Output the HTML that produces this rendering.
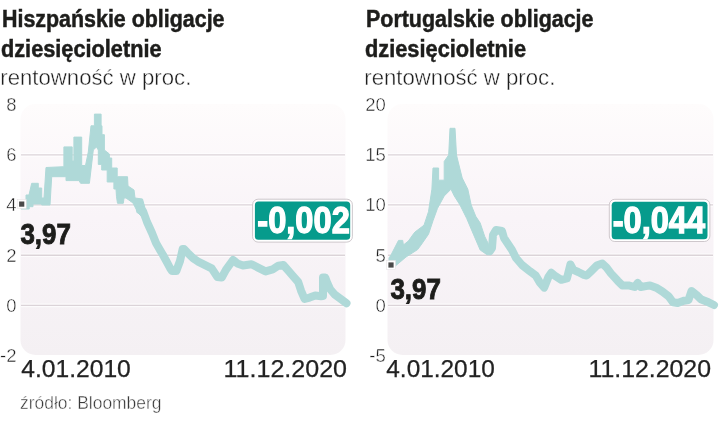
<!DOCTYPE html>
<html><head><meta charset="utf-8">
<style>
html,body{margin:0;padding:0;background:#fff;width:720px;height:423px;overflow:hidden}
svg{display:block;will-change:transform}
text{font-family:"Liberation Sans",sans-serif}
</style></head><body>
<svg width="720" height="423" viewBox="0 0 720 423">
<defs>
<linearGradient id="bg" x1="0" y1="0" x2="0" y2="1">
<stop offset="0" stop-color="#fefcfc"/>
<stop offset="0.45" stop-color="#f9f4f8"/>
<stop offset="1" stop-color="#f4f0f3"/>
</linearGradient>
<filter id="sh" x="-10%" y="-20%" width="120%" height="140%"><feGaussianBlur stdDeviation="0.4"/></filter>
</defs>
<text x="2" y="27.3" font-size="23.5" font-weight="bold" fill="#1d1d1b" textLength="222.5" lengthAdjust="spacingAndGlyphs" stroke="#1d1d1b" stroke-width="0.5">Hiszpańskie obligacje</text>
<text x="1" y="56.6" font-size="23.5" font-weight="bold" fill="#1d1d1b" textLength="160.5" lengthAdjust="spacingAndGlyphs" stroke="#1d1d1b" stroke-width="0.5">dziesięcioletnie</text>
<text x="0.3" y="85.3" font-size="22" fill="#1e1e1e" textLength="191" lengthAdjust="spacingAndGlyphs" stroke="#fff" stroke-width="0.4">rentowność w proc.</text>
<rect x="20.5" y="104" width="325" height="251" rx="15" fill="url(#bg)"/>
<g stroke="#ffffff" stroke-width="3.6" stroke-opacity="0.7">
<line x1="21.0" y1="154.9" x2="345.0" y2="154.9"/>
<line x1="21.0" y1="204.9" x2="345.0" y2="204.9"/>
<line x1="21.0" y1="255.2" x2="345.0" y2="255.2"/>
<line x1="21.0" y1="305.4" x2="345.0" y2="305.4"/>
</g>
<g stroke="#dbd3d8" stroke-width="1.4">
<line x1="21.0" y1="154.9" x2="345.0" y2="154.9"/>
<line x1="21.0" y1="204.9" x2="345.0" y2="204.9"/>
<line x1="21.0" y1="255.2" x2="345.0" y2="255.2"/>
<line x1="21.0" y1="305.4" x2="345.0" y2="305.4"/>
</g>
<path d="M21,203 L26,203 L26,195 L29,195 L31.7,183.3 L38.3,183.3 L38.3,188 L41.7,188 L41.7,198 L44,198 L46,167.5 L63.9,166.7 L63.9,146.9 L72.2,146.9 L72.2,161 L73.9,161 L73.9,137.1 L81.7,137.1 L81.7,165.5 L85.5,165.5 L88.3,152 L91,125.8 L94.4,125.8 L94.4,114.1 L101.1,114.1 L101.1,125.8 L102,125.8 L102,134.7 L104.4,134.7 L104.4,150 L109.4,154 L109.4,158 L111.7,158 L111.7,168 L117.2,168 L117.2,176.7 L127.5,176.7 L128,186 L134,190 L135,198 L142.5,199 L145,208 L143,218 L138,213 L133,203 L126,198 L124,198 L123.3,203.3 L117.5,203.3 L116.5,196.7 L116,189 L113.9,189 L113.9,182 L107.2,182 L107.2,170 L101.7,170 L101.7,164.4 L98.3,164.4 L98.3,150 L96.5,147 L93.3,150 L89.4,183.3 L80.6,183.3 L79,180.6 L66,180.6 L66,176.7 L51.7,176.7 L50,205 L41.7,205 L41.7,204 L33,204 L33,206.7 L29.2,206.7 L29.2,209 L21,209Z" fill="#afd9d8" stroke="#afd9d8" stroke-width="1" stroke-linejoin="round"/><path d="M140,210 L143,211 L147,222 L152,233 L156,243 L160,250 L163,255 L166.3,261 L170,268 L172,271 L176.3,271 L180,261 L182.7,249 L184,249 L187.6,252.8 L193.3,258.4 L197.6,261.3 L204.6,264.8 L211.7,268.4 L217.4,277 L221.7,277.6 L225.9,269.8 L233,260 L237.3,263.4 L243,265.5 L251.5,264.3 L258.5,267.9 L265.6,271.4 L272.7,269.3 L278.4,265.7 L283.3,265 L288.3,270.7 L292.6,275.7 L298.2,282 L301,290.6 L304.6,299 L309.6,297.6 L315.2,295.5 L321,296.2 L323,296 L323,277.5 L325.3,277.5 L327.3,283 L330,289 L335,294.8 L340.8,299 L346.5,303.3" fill="none" stroke="#afd9d8" stroke-width="8" stroke-linejoin="round" stroke-linecap="round"/>
<rect x="17.2" y="199.6" width="9" height="9" fill="#fff" stroke="#e4e0e2" stroke-width="0.5"/>
<rect x="19.099999999999998" y="201.5" width="5.2" height="5.2" fill="#4a4a4a"/>
<g font-size="18.5" fill="#1e1e1e" text-anchor="end" stroke="#fff" stroke-width="0.45">
<text x="16.5" y="110.8">8</text>
<text x="16.5" y="161.1">6</text>
<text x="16.5" y="211.4">4</text>
<text x="16.5" y="261.8">2</text>
<text x="16.5" y="312.0">0</text>
<text x="16.5" y="362.1">-2</text>
</g>
<text x="366" y="27.3" font-size="23.5" font-weight="bold" fill="#1d1d1b" textLength="227.5" lengthAdjust="spacingAndGlyphs" stroke="#1d1d1b" stroke-width="0.5">Portugalskie obligacje</text>
<text x="365" y="56.6" font-size="23.5" font-weight="bold" fill="#1d1d1b" textLength="161" lengthAdjust="spacingAndGlyphs" stroke="#1d1d1b" stroke-width="0.5">dziesięcioletnie</text>
<text x="364.3" y="85.3" font-size="22" fill="#1e1e1e" textLength="191" lengthAdjust="spacingAndGlyphs" stroke="#fff" stroke-width="0.4">rentowność w proc.</text>
<rect x="387.5" y="104" width="326" height="251" rx="15" fill="url(#bg)"/>
<g stroke="#ffffff" stroke-width="3.6" stroke-opacity="0.7">
<line x1="388.0" y1="154.9" x2="713.0" y2="154.9"/>
<line x1="388.0" y1="204.9" x2="713.0" y2="204.9"/>
<line x1="388.0" y1="255.2" x2="713.0" y2="255.2"/>
<line x1="388.0" y1="305.4" x2="713.0" y2="305.4"/>
</g>
<g stroke="#dbd3d8" stroke-width="1.4">
<line x1="388.0" y1="154.9" x2="713.0" y2="154.9"/>
<line x1="388.0" y1="204.9" x2="713.0" y2="204.9"/>
<line x1="388.0" y1="255.2" x2="713.0" y2="255.2"/>
<line x1="388.0" y1="305.4" x2="713.0" y2="305.4"/>
</g>
<path d="M389,258 L391,255 L398.5,240.4 L402.7,240.4 L403.4,245 L408.4,241 L413.4,234 L415,232 L424,225.2 L428.5,211.7 L431.9,189.2 L433,168 L438.6,168 L438.6,180.2 L444.2,180.2 L444.2,161.5 L448.7,155 L450,128.3 L455,128.3 L456.5,155 L457.7,160 L462.2,178 L467.8,189.2 L471.2,205 L475.7,216.2 L480.2,223 L484.7,236.4 L488,243 L491,254.7 L487,254.7 L480.2,250 L473.4,234.2 L466.7,218.4 L460,205 L454.3,196 L451,189.2 L444.2,196 L437.5,208.3 L433,220.7 L428.5,234.2 L421,245 L417.6,249.6 L406,257 L393,268 L389,268Z" fill="#afd9d8" stroke="#afd9d8" stroke-width="1" stroke-linejoin="round"/><path d="M488,250 L490,251 L492,248 L493,235 L496,230 L502,231 L504,238 L508,244 L512,250 L516,258 L522,265 L530,271.3 L535.7,275.5 L539.9,282.6 L544.2,287.6 L548.4,277 L551.3,272.7 L555.5,276.2 L561.2,279.8 L566.9,278.4 L570.4,264.5 L573.3,269.9 L578.2,272 L583.9,274.8 L586.7,275.5 L591,271.3 L596.7,265.6 L602.3,263.5 L606.6,267.7 L610.9,273.4 L617.7,280.8 L622.3,285.4 L628.5,285.4 L634.6,287 L637.7,283 L640.8,287 L650,285.4 L656.2,287.7 L662.3,291.5 L668.5,296.2 L673,302.3 L677.7,303 L683.8,300.8 L688.5,300 L691.5,291 L696.2,294.6 L700.8,299.2 L708.5,302.3 L714,305" fill="none" stroke="#afd9d8" stroke-width="8" stroke-linejoin="round" stroke-linecap="round"/>
<rect x="386.5" y="260.5" width="9" height="9" fill="#fff" stroke="#e4e0e2" stroke-width="0.5"/>
<rect x="388.4" y="262.4" width="5.2" height="5.2" fill="#4a4a4a"/>
<g font-size="18.5" fill="#1e1e1e" text-anchor="end" stroke="#fff" stroke-width="0.45">
<text x="385.8" y="110.8">20</text>
<text x="385.8" y="161.1">15</text>
<text x="385.8" y="211.4">10</text>
<text x="385.8" y="261.8">5</text>
<text x="385.8" y="312.0">0</text>
<text x="385.8" y="362.1">-5</text>
</g>
<rect x="252.6" y="199.2" width="99.8" height="42.9" rx="5.5" fill="#fff" stroke="#bfb7bc" stroke-width="1" stroke-opacity="0.75" filter="url(#sh)"/>
<rect x="254.9" y="201.5" width="95.3" height="38.3" rx="3.5" fill="#069b8c"/>
<text x="257.3" y="233.2" font-size="37" font-weight="bold" fill="#fff" textLength="92.5" lengthAdjust="spacingAndGlyphs" stroke="#fff" stroke-width="1.3">-0,002</text>
<rect x="609.3" y="199.3" width="100.6" height="42.2" rx="5.5" fill="#fff" stroke="#bfb7bc" stroke-width="1" stroke-opacity="0.75" filter="url(#sh)"/>
<rect x="611.7" y="201.7" width="95.8" height="37.5" rx="3.5" fill="#069b8c"/>
<text x="612.7" y="233" font-size="37" font-weight="bold" fill="#fff" textLength="92.3" lengthAdjust="spacingAndGlyphs" stroke="#fff" stroke-width="1.3">-0,044</text>
<text x="20.4" y="244.4" font-size="29" font-weight="bold" fill="#1d1d1b" textLength="50.5" lengthAdjust="spacingAndGlyphs" stroke="#1d1d1b" stroke-width="0.9">3,97</text>
<text x="390.4" y="298.6" font-size="29" font-weight="bold" fill="#1d1d1b" textLength="50.5" lengthAdjust="spacingAndGlyphs" stroke="#1d1d1b" stroke-width="0.9">3,97</text>
<g fill="#222">
<text x="21.3" y="377" font-size="23.5" fill="#222" textLength="109.5" lengthAdjust="spacingAndGlyphs" stroke="#222" stroke-width="0.25">4.01.2010</text>
<text x="223.5" y="376.8" font-size="23.5" fill="#222" textLength="123.5" lengthAdjust="spacingAndGlyphs" stroke="#222" stroke-width="0.25">11.12.2020</text>
<text x="386.3" y="377" font-size="23.5" fill="#222" textLength="108.5" lengthAdjust="spacingAndGlyphs" stroke="#222" stroke-width="0.25">4.01.2010</text>
<text x="588.5" y="377" font-size="23.5" fill="#222" textLength="122.5" lengthAdjust="spacingAndGlyphs" stroke="#222" stroke-width="0.25">11.12.2020</text>
</g>
<text x="20" y="408.7" font-size="18" fill="#3a3a3a" textLength="141.5" lengthAdjust="spacingAndGlyphs" stroke="#fff" stroke-width="0.4">źródło: Bloomberg</text>
</svg>
</body></html>
